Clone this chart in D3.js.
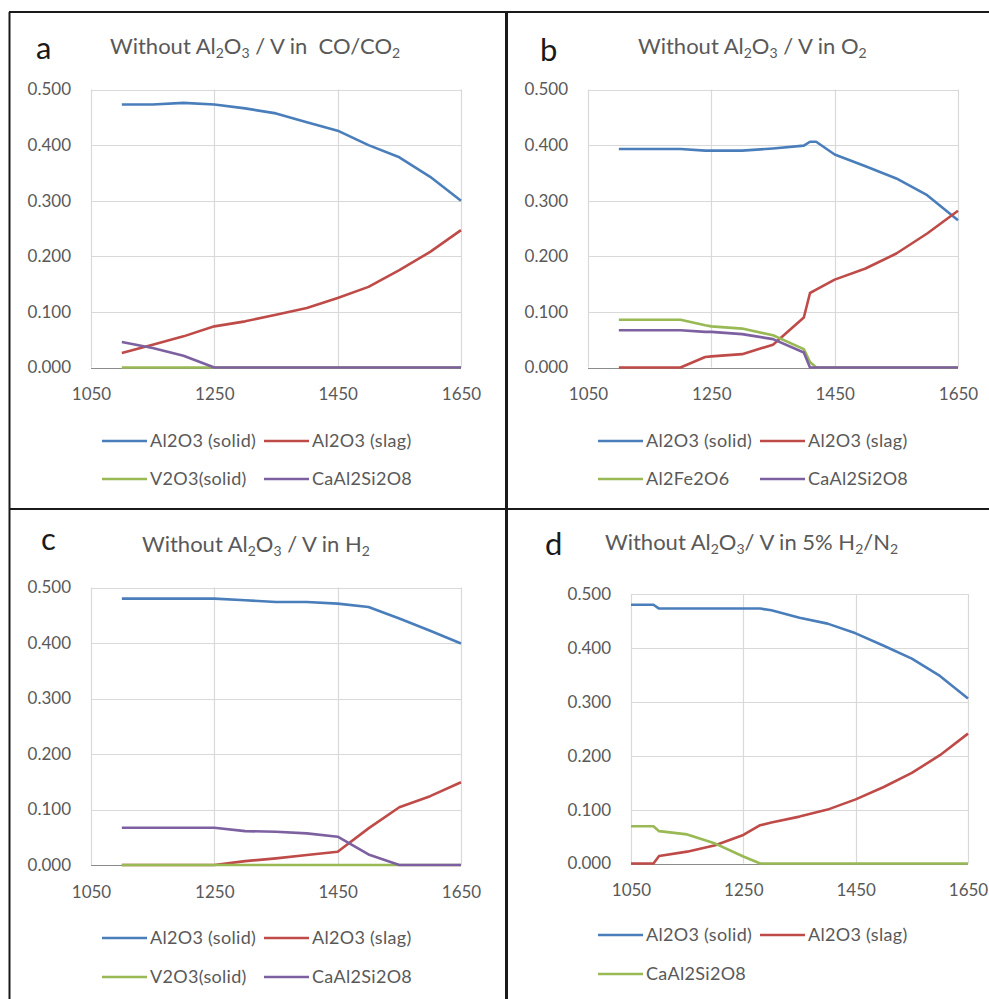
<!DOCTYPE html>
<html>
<head>
<meta charset="utf-8">
<title>Al2O3 phases, without Al2O3 / V</title>
<script src="https://d3js.org/d3.v7.min.js"></script>
<style>
  body { margin:0; background:#fff; }
  text { font-family: Lato, "Open Sans", sans-serif; }
</style>
</head>
<body>
<script>
// values (temperature in C, mass fraction)
var xTicks = [1050, 1250, 1450, 1650];
var yTicks = [0, 0.1, 0.2, 0.3, 0.4, 0.5];

// a - CO/CO2
var tempsA = [1100,1150,1200,1250,1300,1350,1400,1450,1500,1550,1600,1650];
var solidA = [0.473,0.473,0.476,0.473,0.466,0.457,0.441,0.426,0.400,0.378,0.343,0.300];
var slagA  = [0.026,0.041,0.056,0.074,0.083,0.095,0.107,0.125,0.145,0.175,0.208,0.247];
var v2o3A  = [0,0,0,0,0,0,0,0,0,0,0,0];
var anorA  = [0.046,0.035,0.021,0,0,0,0,0,0,0,0,0];

// b - O2
var tempsB = [1100,1150,1200,1240,1250,1300,1350,1400,1410,1420,1450,1500,1550,1600,1650];
var solidB = [0.393,0.393,0.393,0.390,0.390,0.390,0.394,0.399,0.406,0.406,0.383,0.362,0.340,0.310,0.265];
var slagB  = [0,0,0,0.019,0.020,0.024,0.041,0.090,0.134,0.140,0.158,0.178,0.205,0.241,0.282];
var fe2o6B = [0.086,0.086,0.086,0.076,0.074,0.070,0.058,0.033,0.010,0,0,0,0,0,0];
var anorB  = [0.067,0.067,0.067,0.064,0.064,0.060,0.051,0.027,0,0,0,0,0,0,0];

// c - H2
var tempsC = [1100,1150,1200,1250,1300,1350,1400,1450,1500,1550,1600,1650];
var solidC = [0.480,0.480,0.480,0.480,0.477,0.474,0.474,0.471,0.465,0.444,0.422,0.399];
var slagC  = [0,0,0,0,0.007,0.012,0.018,0.024,0.066,0.104,0.124,0.149];
var v2o3C  = [0,0,0,0,0,0,0,0,0,0,0,0];
var anorC  = [0.067,0.067,0.067,0.067,0.061,0.060,0.057,0.051,0.019,0,0,0];

// d - 5% H2/N2
var tempsD = [1050,1090,1100,1150,1200,1250,1280,1300,1350,1400,1450,1500,1550,1600,1650];
var solidD = [0.480,0.480,0.473,0.473,0.473,0.473,0.473,0.470,0.456,0.445,0.427,0.404,0.380,0.348,0.306];
var slagD  = [0,0,0.014,0.022,0.034,0.053,0.071,0.076,0.087,0.100,0.119,0.142,0.168,0.201,0.241];
var anorD  = [0.069,0.069,0.060,0.054,0.037,0.013,0,0,0,0,0,0,0,0,0];

var BLUE = "#4a7ebb", RED = "#be4b48", GREEN = "#98b954", PURPLE = "#7d60a0";

var panels = [
  { letter:"a", lx:36, ly:59, tx:110, ty:54,
    title:[["Without Al"],["2",1],["O"],["3",1],[" / V in  CO/CO"],["2",1]],
    box:{left:91, right:461, top:89.5, bottom:367.5}, legX:102, legY:[441,479],
    temps:tempsA,
    series:[["Al2O3 (solid)",solidA,BLUE],["Al2O3 (slag)",slagA,RED],["V2O3(solid)",v2o3A,GREEN],["CaAl2Si2O8",anorA,PURPLE]] },
  { letter:"b", lx:540, ly:60.5, tx:638, ty:54,
    title:[["Without Al"],["2",1],["O"],["3",1],[" / V in O"],["2",1]],
    box:{left:588, right:958, top:89.5, bottom:367.5}, legX:598, legY:[441,479],
    temps:tempsB,
    series:[["Al2O3 (solid)",solidB,BLUE],["Al2O3 (slag)",slagB,RED],["Al2Fe2O6",fe2o6B,GREEN],["CaAl2Si2O8",anorB,PURPLE]] },
  { letter:"c", lx:41, ly:550, tx:142, ty:551.5,
    title:[["Without Al"],["2",1],["O"],["3",1],[" / V in H"],["2",1]],
    box:{left:91, right:461, top:587.5, bottom:865}, legX:102, legY:[938,977],
    temps:tempsC,
    series:[["Al2O3 (solid)",solidC,BLUE],["Al2O3 (slag)",slagC,RED],["V2O3(solid)",v2o3C,GREEN],["CaAl2Si2O8",anorC,PURPLE]] },
  { letter:"d", lx:545, ly:555, tx:605, ty:550,
    title:[["Without Al"],["2",1],["O"],["3",1],["/ V in 5% H"],["2",1],["/N"],["2",1]],
    box:{left:631, right:968, top:594, bottom:863.5}, legX:598, legY:[935,974],
    temps:tempsD,
    series:[["Al2O3 (solid)",solidD,BLUE],["Al2O3 (slag)",slagD,RED],["CaAl2Si2O8",anorD,GREEN]] }
];

var svg = d3.select("body").append("svg")
    .attr("width", 989).attr("height", 999)
    .style("display", "block");

svg.append("rect").attr("width", 989).attr("height", 999).attr("fill", "#fff");

panels.forEach(function(p) {
  var b = p.box;
  var x = d3.scaleLinear().domain([1050, 1650]).range([b.left, b.right]);
  var y = d3.scaleLinear().domain([0, 0.5]).range([b.bottom, b.top]);
  var g = svg.append("g");

  // gridlines
  g.selectAll("line.hgrid").data(yTicks.slice(1)).enter().append("line")
      .attr("x1", b.left).attr("x2", b.right)
      .attr("y1", function(d){ return Math.round(y(d)) + 0.5; })
      .attr("y2", function(d){ return Math.round(y(d)) + 0.5; })
      .attr("stroke", "#d9d9d9").attr("stroke-width", 1.2);
  g.selectAll("line.vgrid").data(xTicks).enter().append("line")
      .attr("y1", b.top).attr("y2", b.bottom)
      .attr("x1", function(d){ return Math.round(x(d)) + 0.5; })
      .attr("x2", function(d){ return Math.round(x(d)) + 0.5; })
      .attr("stroke", "#d9d9d9").attr("stroke-width", 1.2);
  g.append("line").attr("x1", b.left).attr("x2", b.right)
      .attr("y1", Math.round(b.bottom) + 0.5).attr("y2", Math.round(b.bottom) + 0.5)
      .attr("stroke", "#8c8c8c").attr("stroke-width", 1.2);

  // tick labels
  var ya = g.append("g").attr("transform", "translate(" + b.left + ",0)")
      .call(d3.axisLeft(y).tickValues(yTicks).tickFormat(d3.format(".3f")).tickSize(0).tickPadding(20));
  var xa = g.append("g").attr("transform", "translate(0," + b.bottom + ")")
      .call(d3.axisBottom(x).tickValues(xTicks).tickFormat(d3.format("d")).tickSize(0));
  [ya, xa].forEach(function(a) {
    a.select(".domain").remove();
    a.selectAll("text").attr("font-size", 17).attr("fill", "#595959")
        .attr("font-family", "Lato, sans-serif");
  });
  xa.selectAll("text").attr("y", 27).attr("dy", "0.35em");

  // series
  var line = d3.line()
      .x(function(d){ return x(d[0]); })
      .y(function(d){ return y(d[1]); });
  p.series.forEach(function(s) {
    g.append("path")
        .datum(p.temps.map(function(t, i){ return [t, s[1][i]]; }))
        .attr("d", line)
        .attr("fill", "none").attr("stroke", s[2])
        .attr("stroke-width", 2.6).attr("stroke-linejoin", "round");
  });

  // legend
  p.series.forEach(function(s, i) {
    var lx = p.legX + (i % 2) * 162;
    var ly = p.legY[Math.floor(i / 2)];
    g.append("line").attr("x1", lx).attr("x2", lx + 45)
        .attr("y1", ly).attr("y2", ly)
        .attr("stroke", s[2]).attr("stroke-width", 2.6);
    g.append("text").attr("x", lx + 48).attr("y", ly).attr("dy", "0.35em")
        .attr("font-size", 18).attr("letter-spacing", 0.3)
        .attr("fill", "#595959").text(s[0]);
  });

  // panel letter and title
  g.append("text").attr("x", p.lx).attr("y", p.ly)
      .attr("font-size", 31).attr("fill", "#1a1a1a").text(p.letter);
  var t = g.append("text").attr("x", p.tx).attr("y", p.ty)
      .attr("font-size", 22).attr("fill", "#595959")
      .style("white-space", "pre");
  var shifted = false;
  p.title.forEach(function(part) {
    var ts = t.append("tspan").text(part[0]);
    if (part[1]) { ts.attr("font-size", 14).attr("dy", shifted ? 0 : 4); shifted = true; }
    else if (shifted) { ts.attr("dy", -4); shifted = false; }
  });
});

// frame lines between the panels
var frame = [
  {x1:9.5, y1:12, x2:9.5, y2:999, w:2},
  {x1:9, y1:12, x2:989, y2:12, w:2},
  {x1:506.5, y1:11, x2:506.5, y2:999, w:3},
  {x1:9, y1:509, x2:989, y2:509, w:2}
];
svg.selectAll("line.frame").data(frame).enter().append("line")
    .attr("class", "frame")
    .attr("x1", function(d){ return d.x1; }).attr("y1", function(d){ return d.y1; })
    .attr("x2", function(d){ return d.x2; }).attr("y2", function(d){ return d.y2; })
    .attr("stroke", "#1a1a1a").attr("stroke-width", function(d){ return d.w; });
</script>
</body>
</html>
